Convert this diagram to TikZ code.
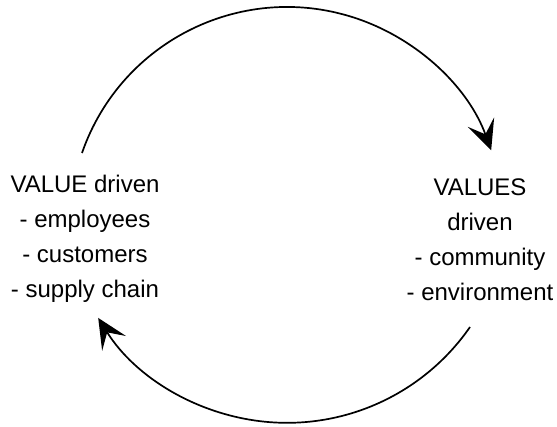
\documentclass[tikz,border=0pt]{standalone}
\usepackage{fontspec}
\setmainfont{Liberation Sans}
\usetikzlibrary{arrows.meta}

\begin{document}
\begin{tikzpicture}[x=1pt,y=1pt,
    flow/.style={line width=1.7pt, -{Stealth[length=30pt,width=28pt,inset=13pt]}},
    label/.style={align=center, inner sep=0pt, font=\fontsize{24}{35}\selectfont}]
  \useasboundingbox (0,0) rectangle (557,426);
  \node[label] (valuedriven) at (85,187) {VALUE driven\\- employees\\- customers\\- supply chain};
  \node[label] (valuesdriven) at (480,186) {VALUES\\driven\\- community\\- environment};
  % ends of the two arcs
  \coordinate (topstart) at (82,273);
  \coordinate (botstart) at (470,99);
  \draw[flow] (topstart) arc[start angle=160.9, end angle=19.85, radius=217];
  \draw[flow] (botstart) arc[start angle=-34.7, end angle=-148.1, radius=222.5];
\end{tikzpicture}
\end{document}
